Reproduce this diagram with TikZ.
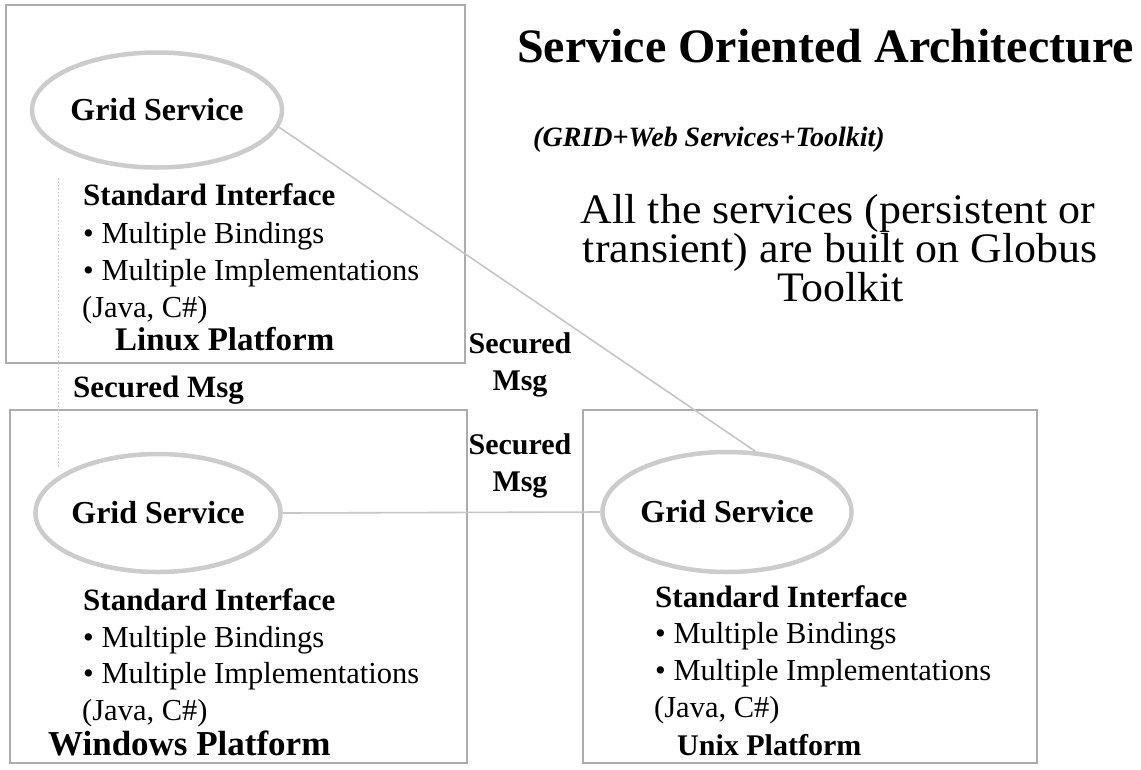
\documentclass[tikz,border=0pt]{standalone}
\usepackage{fontspec}
\setmainfont{Liberation Serif}
\newfontfamily\mydescfont[FakeStretch=1.045]{Liberation Serif}
\usetikzlibrary{shapes.geometric}
\begin{document}
\begin{tikzpicture}[x=1pt,y=-1pt,
  platbox/.style={rectangle, draw=gray!65, line width=1.6pt, inner sep=0pt},
  gsell/.style={ellipse, draw=gray!40, line width=4.5pt, inner sep=0pt,
    font=\fontsize{32}{36}\selectfont\bfseries},
  conn/.style={draw=gray!45, line width=1.6pt},
  thinconn/.style={draw=gray!40, line width=0.8pt, dash pattern=on 2pt off 1.5pt},
  body/.style={anchor=base west, inner sep=0pt, font=\fontsize{30.5}{36}\selectfont},
  bodyb/.style={anchor=base west, inner sep=0pt, font=\fontsize{31}{36}\selectfont\bfseries},
  msg/.style={align=center, inner sep=0pt, font=\fontsize{30}{37}\selectfont\bfseries},
  plat/.style={anchor=base west, inner sep=0pt},
  descline/.style={anchor=base, inner sep=0pt, font=\mydescfont\fontsize{42}{38}\selectfont}
]
\useasboundingbox (0,0) rectangle (1141,769);
\fill[white] (0,0) rectangle (1141,769);

% platform boxes
\node[platbox, minimum width=459pt, minimum height=358pt] (linux) at (235.5,184) {};
\node[platbox, minimum width=457pt, minimum height=353pt] (windows) at (238.5,586.5) {};
\node[platbox, minimum width=454pt, minimum height=353pt] (unix) at (810,586.5) {};

% grid service ellipses
\node[gsell, minimum width=250pt, minimum height=115pt] (gs1) at (157,110) {Grid Service};
\node[gsell, minimum width=243pt, minimum height=118pt] (gs2) at (158,513) {Grid Service};
\node[gsell, minimum width=249pt, minimum height=120pt] (gs3) at (727,512) {Grid Service};

% connectors
\draw[conn] (gs1.-8) -- (gs3.65);
\draw[conn] (gs2.east) -- (gs3.west);
\draw[thinconn] ([xshift=-99pt,yshift=-8pt]gs1.south) -- ([xshift=-100pt,yshift=-15pt]gs2.north);

% Linux box text
\node[bodyb] (l1) at (83,205) {Standard Interface};
\node[body]  (l2) at (83,243) {• Multiple Bindings};
\node[body]  (l3) at (83,280) {• Multiple Implementations};
\node[body]  (l4) at (82,317) {(Java, C\#)};
\node[plat, font=\fontsize{33}{36}\selectfont\bfseries] (l5) at (115,350) {Linux Platform};

% Windows box text
\node[bodyb] (w1) at (83,610) {Standard Interface};
\node[body]  (w2) at (83,647) {• Multiple Bindings};
\node[body]  (w3) at (83,683) {• Multiple Implementations};
\node[body]  (w4) at (82,720) {(Java, C\#)};
\node[plat, font=\fontsize{35}{38}\selectfont\bfseries] (w5) at (48,755) {Windows Platform};

% Unix box text
\node[bodyb] (u1) at (655,607) {Standard Interface};
\node[body]  (u2) at (655,643) {• Multiple Bindings};
\node[body]  (u3) at (655,680) {• Multiple Implementations};
\node[body]  (u4) at (654,717) {(Java, C\#)};
\node[plat, font=\fontsize{30}{36}\selectfont\bfseries] (u5) at (677,755) {Unix Platform};

% secured message labels
\node[bodyb] (sm1) at (73,397) {Secured Msg};
\node[msg] (sm2) at (520,365) {Secured\\Msg};
\node[msg] (sm3) at (520,466) {Secured\\Msg};

% right-hand text
\node[anchor=base, inner sep=0pt, font=\fontsize{48}{52}\selectfont\bfseries] (title) at (825.5,62) {Service Oriented Architecture};
\node[anchor=base, inner sep=0pt, font=\fontsize{28}{32}\selectfont\bfseries\itshape] (sub) at (709,146) {(GRID+Web Services+Toolkit)};
\node[descline] (desc1) at (838,223) {All the services (persistent or};
\node[descline] (desc2) at (840,262) {transient) are built on Globus};
\node[descline] (desc3) at (841,301) {Toolkit};
\end{tikzpicture}
\end{document}
